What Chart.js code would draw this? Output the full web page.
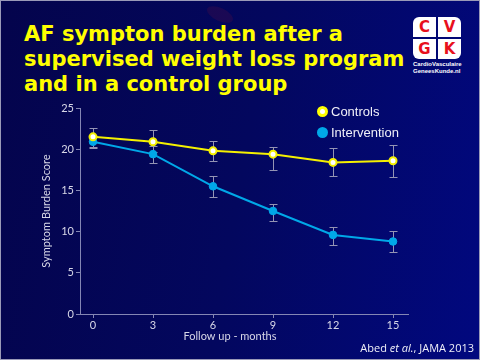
<!DOCTYPE html>
<html lang="en">
  <head>
    <meta charset="UTF-8" />
    <title>AF sympton burden</title>
    <script src="https://cdn.jsdelivr.net/npm/chart.js"></script>
    <style>
      body {
        margin: 0;
        width: 480px;
        height: 360px;
        overflow: hidden;
        position: relative;
        background: linear-gradient(100deg, #04044c 0%, #03075e 50%, #01087f 100%);
        font-family: "Liberation Sans", Arial, sans-serif;
      }
      .frame {
        position: absolute;
        left: 0; top: 0;
        width: 478px; height: 358px;
        border: 1px solid #9a9ab8;
        pointer-events: none;
      }
      .blob {
        position: absolute;
        left: 206px; top: 8px;
        width: 28px; height: 13px;
        border-radius: 50%;
        background: rgba(110, 20, 60, 0.22);
        transform: rotate(25deg);
      }
      h1 {
        position: absolute;
        left: 24px;
        top: 22px;
        margin: 0;
        font-family: "DejaVu Sans", Verdana, sans-serif;
        font-weight: bold;
        font-size: 21px;
        line-height: 25px;
        color: #ffff00;
      }
      .logo {
        position: absolute;
        left: 413px;
        top: 17px;
        width: 48px;
      }
      .logo .grid {
        display: grid;
        grid-template-columns: 23px 23px;
        gap: 2px;
      }
      .logo .grid span {
        background: #fff;
        height: 20px;
        color: #e8101c;
        font: bold 15px "DejaVu Sans", sans-serif;
        text-align: center;
        line-height: 20px;
      }
      .logo .grid span:nth-child(1) { border-radius: 6px 0 0 0; }
      .logo .grid span:nth-child(2) { border-radius: 0 6px 0 0; }
      .logo .grid span:nth-child(3) { border-radius: 0 0 0 6px; }
      .logo .grid span:nth-child(4) { border-radius: 0 0 6px 0; }
      .logo .txt {
        color: #fff;
        font: bold 6px "Liberation Sans Narrow", "Liberation Sans", sans-serif;
        line-height: 7px;
        margin-top: 2px;
        white-space: nowrap;
      }
      #chart {
        position: absolute;
        left: 0; top: 0;
      }
      .legend {
        position: absolute;
        left: 317px;
        top: 101px;
        color: #f0f0f8;
        font-size: 13px;
      }
      .legend div {
        height: 21px;
        display: flex;
        align-items: center;
      }
      .legend i {
        display: inline-block;
        width: 11px;
        height: 11px;
        border-radius: 50%;
        margin-right: 3px;
        box-sizing: border-box;
      }
      .cite {
        position: absolute;
        right: 6px;
        top: 340px;
        color: #f0f0f8;
        font: 11px "Open Sans", sans-serif;
      }
    </style>
  </head>
  <body>
    <div class="blob"></div>
    <h1>AF sympton burden after a<br />supervised weight loss program<br />and in a control group</h1>
    <div class="logo">
      <div class="grid"><span>C</span><span>V</span><span>G</span><span>K</span></div>
      <div class="txt">CardioVasculaire<br />GeneesKunde.nl</div>
    </div>
    <canvas id="chart" width="480" height="360"></canvas>
    <div class="legend">
      <div><i style="background:#fff;border:3.5px solid #ffff00"></i>Controls</div>
      <div><i style="background:#00a8e8"></i>Intervention</div>
    </div>
    <div class="cite">Abed <i>et al.</i>, JAMA 2013</div>
    <div class="frame"></div>

    <script>
      // Follow-up months
      const months = [0, 3, 6, 9, 12, 15];

      // Symptom burden score (mean) and error bar ends
      const controls = [21.5, 20.9, 19.8, 19.4, 18.4, 18.6];
      const controlsLow = [20.3, 19.6, 18.6, 17.5, 16.7, 16.6];
      const controlsHigh = [22.6, 22.3, 21.0, 20.3, 20.1, 20.5];

      const intervention = [20.9, 19.4, 15.5, 12.5, 9.6, 8.8];
      const interventionLow = [20.1, 18.3, 14.2, 11.3, 8.4, 7.5];
      const interventionHigh = [21.6, 20.4, 16.7, 13.3, 10.6, 10.1];

      const yTicks = [0, 5, 10, 15, 20, 25];

      const axisColor = "#8486b4";
      const tickColor = "#d8d8e8";

      // error bars + x axis title (the title sits left of centre in the original)
      const extras = {
        id: "extras",
        beforeDatasetsDraw(chart) {
          const ctx = chart.ctx;
          const xs = chart.scales.x;
          const ys = chart.scales.y;
          const sets = [
            [controlsLow, controlsHigh],
            [interventionLow, interventionHigh],
          ];
          ctx.save();
          ctx.strokeStyle = "#9494b4";
          ctx.lineWidth = 1;
          sets.forEach(([lo, hi]) => {
            months.forEach((m, i) => {
              const x = Math.round(xs.getPixelForValue(m)) + 0.5;
              const y1 = Math.round(ys.getPixelForValue(lo[i])) + 0.5;
              const y2 = Math.round(ys.getPixelForValue(hi[i])) + 0.5;
              ctx.beginPath();
              ctx.moveTo(x, y1);
              ctx.lineTo(x, y2);
              ctx.moveTo(x - 4, y1);
              ctx.lineTo(x + 4, y1);
              ctx.moveTo(x - 4, y2);
              ctx.lineTo(x + 4, y2);
              ctx.stroke();
            });
          });
          ctx.restore();
        },
        afterDraw(chart) {
          const ctx = chart.ctx;
          const xs = chart.scales.x;
          ctx.save();
          ctx.fillStyle = tickColor;
          ctx.font = "11px Lato";
          ctx.textAlign = "center";
          ctx.textBaseline = "middle";
          ctx.fillText("Follow up - months", xs.getPixelForValue(6.85), 336);
          ctx.restore();
        },
      };

      new Chart(document.getElementById("chart"), {
        type: "line",
        data: {
          datasets: [
            {
              label: "Controls",
              data: months.map((m, i) => ({ x: m, y: controls[i] })),
              borderColor: "#f4f000",
              borderWidth: 2,
              pointBackgroundColor: "#ffffff",
              pointBorderColor: "#f4f000",
              pointBorderWidth: 2,
              pointRadius: 3.5,
            },
            {
              label: "Intervention",
              data: months.map((m, i) => ({ x: m, y: intervention[i] })),
              borderColor: "#00a8e8",
              borderWidth: 2,
              pointBackgroundColor: "#00a8e8",
              pointBorderColor: "#00a8e8",
              pointBorderWidth: 1,
              pointRadius: 3.8,
            },
          ],
        },
        options: {
          responsive: false,
          animation: false,
          layout: { padding: { left: 0, top: 108, right: 72, bottom: 16 } },
          plugins: { legend: { display: false }, tooltip: { enabled: false } },
          scales: {
            x: {
              type: "linear",
              min: -0.65,
              max: 15.75,
              afterBuildTicks: (s) => { s.ticks = months.map((v) => ({ value: v })); },
              afterFit: (s) => { s.height = 30; },
              border: { color: axisColor, width: 1 },
              grid: { drawOnChartArea: false, color: axisColor, tickLength: 4 },
              ticks: { color: tickColor, font: { family: "Lato", size: 11 }, padding: 1 },
            },
            y: {
              min: 0,
              max: 25,
              afterBuildTicks: (s) => { s.ticks = yTicks.map((v) => ({ value: v })); },
              afterFit: (s) => { s.width = 80; },
              border: { color: axisColor, width: 1 },
              grid: { drawOnChartArea: false, color: axisColor, tickLength: 4 },
              ticks: { color: tickColor, font: { family: "Lato", size: 11 }, padding: 2 },
              title: {
                display: true,
                text: "Symptom Burden Score",
                color: tickColor,
                font: { family: "Lato", size: 11 },
                padding: { top: 40, bottom: 0 },
              },
            },
          },
        },
        plugins: [extras],
      });
    </script>
  </body>
</html>
